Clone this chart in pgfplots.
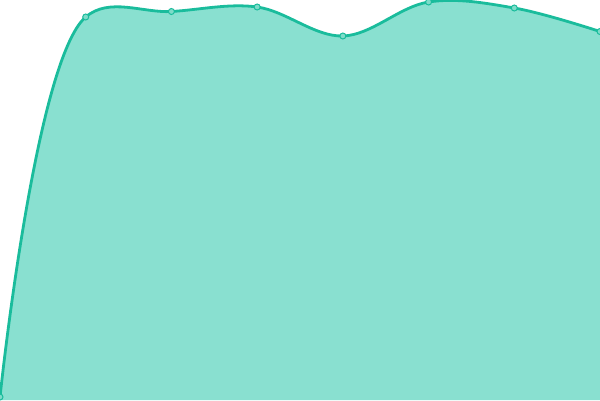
\documentclass[border=0pt]{standalone}
\usepackage{pgfplots}
\pgfplotsset{compat=1.18}
\definecolor{teal1}{HTML}{1ABC9C}
\definecolor{tealfill}{HTML}{89E0D0}
\definecolor{tealmark}{HTML}{7EDCC9}
\begin{document}
\begin{tikzpicture}
\begin{axis}[
  scale only axis, width=600pt, height=400pt,
  hide axis, xmin=0, xmax=7, ymin=0, ymax=400,
  clip=true, clip marker paths=true,
]
% centripetal Catmull-Rom curve through the data points
\def\curve{(axis cs:0,3)
  .. controls (axis cs:0,3) and (axis cs:0.4104,339.87) .. (axis cs:1,383)
  .. controls (axis cs:1.2768,403.25) and (axis cs:1.6666,386.83) .. (axis cs:2,388.5)
  .. controls (axis cs:2.3333,390.17) and (axis cs:2.6710,396.885) .. (axis cs:3,393)
  .. controls (axis cs:3.3378,389.01) and (axis cs:3.6682,363.27) .. (axis cs:4,364)
  .. controls (axis cs:4.3349,364.74) and (axis cs:4.6606,393.49) .. (axis cs:5,398)
  .. controls (axis cs:5.3276,402.36) and (axis cs:5.6696,396.83) .. (axis cs:6,392)
  .. controls (axis cs:6.3362,387.09) and (axis cs:7,368.5) .. (axis cs:7,368.5)}
\fill[tealfill] (axis cs:0,0) -- \curve -- (axis cs:7,0) -- cycle;
\draw[teal1, line width=2.8pt] \curve;
\addplot[only marks, mark=*, mark size=3pt,
  mark options={draw=teal1, fill=tealmark, line width=1pt}] coordinates {
 (0,3) (1,383) (2,388.5) (3,393) (4,364) (5,398) (6,392) (7,368.5)
};
\end{axis}
\end{tikzpicture}
\end{document}
